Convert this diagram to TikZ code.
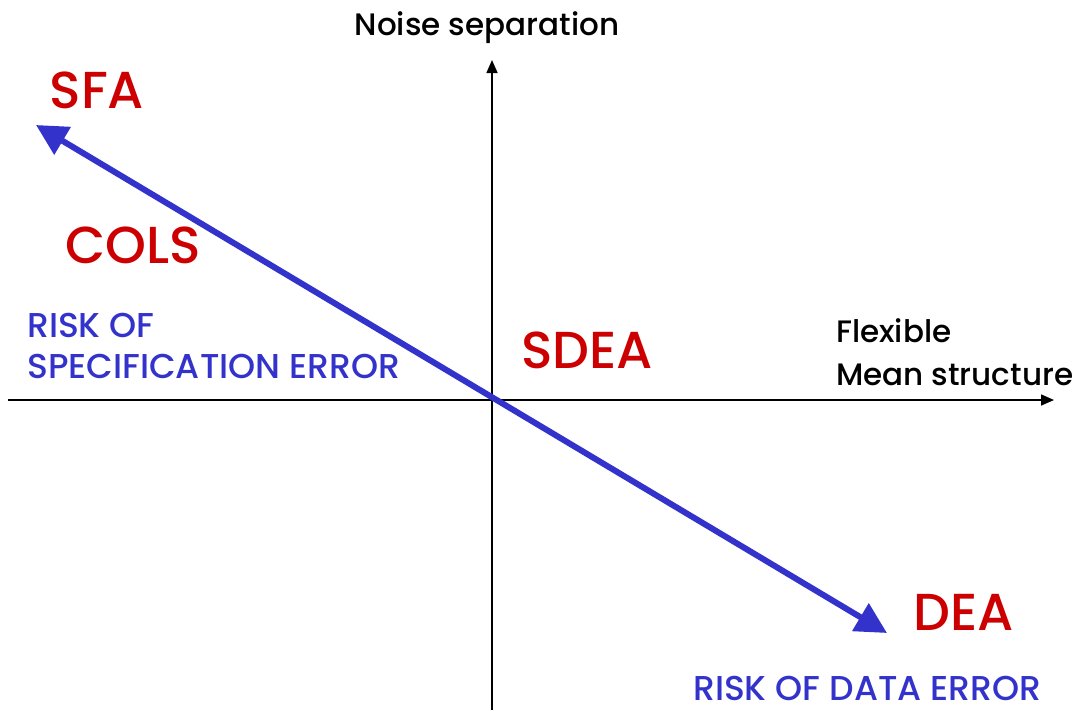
\documentclass[tikz,border=0pt]{standalone}
\usepackage{fontspec}
\setmainfont{Poppins Medium}
\usetikzlibrary{arrows.meta, positioning, calc}

\definecolor{methred}{RGB}{204,0,0}
\definecolor{riskblue}{RGB}{51,51,204}

\begin{document}
\begin{tikzpicture}[x=1pt, y=-1pt, line cap=butt, line join=miter]
	
	%======================
	% STYLES
	%======================
	\tikzset{
		axis/.style={line width=1.6pt, black, -{Triangle[length=13pt, width=11pt]}},
		trade/.style={line width=6pt, riskblue, {Triangle[length=31pt, width=31pt]}-{Triangle[length=31pt, width=31pt]}},
		method/.style={text=methred, inner sep=0pt, font=\fontsize{52}{52}\selectfont},
		risk/.style={text=riskblue, inner sep=0pt, align=left, font=\fontsize{34.5}{41}\selectfont},
		axlabel/.style={text=black, inner sep=0pt, align=left, font=\fontsize{31}{43}\selectfont}
	}
	
	% canvas
	\useasboundingbox (0,0) rectangle (1076,710);
	
	%======================
	% AXES
	%======================
	\coordinate (O) at (492,400);
	\coordinate (XL) at (8,400);
	\coordinate (XR) at (1054,400);
	\coordinate (YB) at (492,710);
	\coordinate (YT) at (492,60);
	
	\draw[axis] (XL) -- (XR);
	\draw[axis] (YB) -- (YT);
	
	\node[axlabel, anchor=base] (noise) at (487,35) {Noise separation};
	\node[axlabel, anchor=west] (flex) at (836,352) {Flexible\\Mean structure};
	
	%======================
	% TRADE-OFF ARROW
	%======================
	\coordinate (TL) at (36,125);
	\coordinate (BR) at (887,633);
	\draw[trade] (BR) -- (TL);
	
	%======================
	% METHODS
	%======================
	\node[method] (sfa) at (97,90) {SFA};
	\node[method] (cols) at (133,245) {COLS};
	\node[method] (sdea) at (587,350) {SDEA};
	\node[method] (dea) at (964,612) {DEA};
	
	%======================
	% RISKS
	%======================
	\node[risk, anchor=west] (specrisk) at (27,346) {RISK OF\\SPECIFICATION ERROR};
	\node[risk, anchor=west] (datarisk) at (693,688) {RISK OF DATA ERROR};
	
\end{tikzpicture}
\end{document}
